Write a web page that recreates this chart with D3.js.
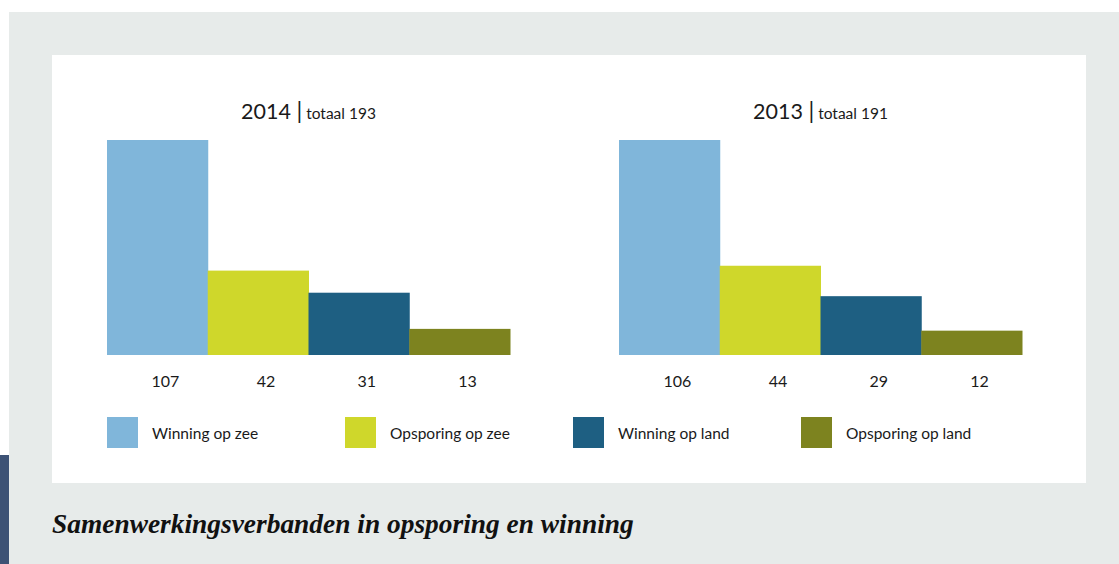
<!DOCTYPE html>
<html>
<head>
<meta charset="utf-8">
<script src="https://cdn.jsdelivr.net/npm/d3@7"></script>
<style>
    html, body { margin: 0; padding: 0; background: #fff; }
    svg { display: block; }
</style>
</head>
<body>
<svg id="chart"></svg>
<script>
const categories = ['Winning op zee', 'Opsporing op zee', 'Winning op land', 'Opsporing op land'];
const years = ['2014', '2013'];
const totals = [193, 191];
const values2014 = [107, 42, 31, 13];
const values2013 = [106, 44, 29, 12];
const colors = ['#80b6da', '#cfd72b', '#1e5f82', '#7d831f'];

const width = 1119;
const height = 564;

const svg = d3.select('#chart')
    .attr('width', width)
    .attr('height', height);

// page frame
svg.append('rect')
    .attr('x', 9).attr('y', 12)
    .attr('width', width - 9).attr('height', height - 12)
    .attr('fill', '#e7ebea');

svg.append('rect')
    .attr('x', 0).attr('y', 455)
    .attr('width', 9).attr('height', height - 455)
    .attr('fill', '#3d5275');

svg.append('rect')
    .attr('x', 52).attr('y', 55)
    .attr('width', 1034).attr('height', 428)
    .attr('fill', '#fff');

const panels = [
    { year: years[0], total: totals[0], values: values2014, x0: 107 },
    { year: years[1], total: totals[1], values: values2013, x0: 619 }
];

const barTop = 140;
const baseline = 355;
const chartWidth = 403;

panels.forEach(p => {
    const g = svg.append('g').attr('transform', `translate(${p.x0},0)`);

    const x = d3.scaleBand()
        .domain(categories)
        .range([0, chartWidth])
        .padding(0);

    const y = d3.scaleLinear()
        .domain([0, d3.max(p.values)])
        .range([baseline, barTop]);

    g.selectAll('.bar')
        .data(p.values)
        .enter().append('rect')
        .attr('class', 'bar')
        .attr('x', (d, i) => x(categories[i]))
        .attr('width', x.bandwidth() + 0.5)
        .attr('y', d => y(d))
        .attr('height', d => baseline - y(d))
        .attr('fill', (d, i) => colors[i]);

    g.selectAll('.val')
        .data(p.values)
        .enter().append('text')
        .attr('class', 'val')
        .attr('x', (d, i) => x(categories[i]) + x.bandwidth() / 2 + 8)
        .attr('y', 387)
        .attr('text-anchor', 'middle')
        .style('font-family', 'Lato')
        .style('font-size', '16px')
        .style('fill', '#1a1a1a')
        .text(d => d);

    const title = g.append('text')
        .attr('x', chartWidth / 2)
        .attr('y', 119)
        .attr('text-anchor', 'middle')
        .style('font-family', 'Lato')
        .style('fill', '#1a1a1a');
    title.append('tspan').style('font-size', '21.5px').text(p.year + ' ');
    title.append('tspan').style('font-size', '23px').text('|');
    title.append('tspan').style('font-size', '15.5px').text(' totaal ' + p.total);
});

// legend
const legendX = [107, 345, 573, 801];
const legend = svg.selectAll('.legend')
    .data(categories)
    .enter().append('g')
    .attr('class', 'legend')
    .attr('transform', (d, i) => `translate(${legendX[i]},417)`);

legend.append('rect')
    .attr('width', 31)
    .attr('height', 31)
    .attr('fill', (d, i) => colors[i]);

legend.append('text')
    .attr('x', 45)
    .attr('y', 22)
    .style('font-family', 'Lato')
    .style('font-size', '15.5px')
    .style('fill', '#1a1a1a')
    .text(d => d);

const caption = svg.append('text')
    .attr('x', 52)
    .attr('y', 533)
    .style('font-family', '"Liberation Serif", serif')
    .style('font-style', 'italic')
    .style('font-weight', 'bold')
    .style('font-size', '27px')
    .style('fill', '#111')
    .text('Samenwerkingsverbanden in opsporing en winning');

// fit the caption to the width it has in the original
const len = caption.node().getComputedTextLength();
caption.style('font-size', (27 * 582 / len).toFixed(2) + 'px');
</script>
</body>
</html>
